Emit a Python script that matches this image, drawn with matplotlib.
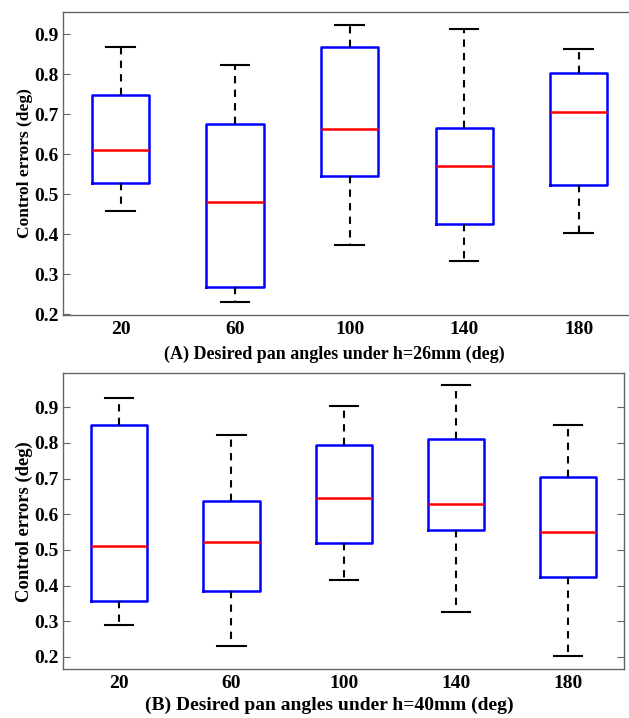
import numpy as np
import matplotlib.pyplot as plt

plt.rcParams['font.family'] = 'Liberation Serif'
plt.rcParams['font.weight'] = 'bold'

angles = ['20', '60', '100', '140', '180']

# h = 26 mm
low_a = [0.458, 0.230, 0.372, 0.333, 0.404]
q1_a = [0.527, 0.269, 0.546, 0.425, 0.523]
med_a = [0.609, 0.481, 0.663, 0.569, 0.706]
q3_a = [0.748, 0.675, 0.867, 0.665, 0.803]
high_a = [0.867, 0.823, 0.922, 0.913, 0.863]

# h = 40 mm
low_b = [0.289, 0.231, 0.415, 0.325, 0.203]
q1_b = [0.357, 0.385, 0.518, 0.557, 0.423]
med_b = [0.510, 0.521, 0.645, 0.628, 0.549]
q3_b = [0.849, 0.636, 0.795, 0.812, 0.703]
high_b = [0.926, 0.823, 0.903, 0.961, 0.849]


def make_stats(low, q1, med, q3, high):
    stats = []
    for i in range(len(med)):
        stats.append({'whislo': low[i], 'q1': q1[i], 'med': med[i],
                      'q3': q3[i], 'whishi': high[i], 'fliers': []})
    return stats


def draw_panel(ax, stats, xlabel, ylim, label_size, xlabel_y):
    ax.bxp(stats, positions=np.arange(1, len(stats) + 1), widths=0.5,
           capwidths=0.25, showfliers=False,
           boxprops=dict(color='#0000ff', linewidth=1.8),
           medianprops=dict(color='#ff0000', linewidth=1.8),
           whiskerprops=dict(color='black', linewidth=1.5, linestyle=(0, (3.5, 3))),
           capprops=dict(color='black', linewidth=1.5))
    ax.set_xlim(0.5, 5.5)
    ax.set_ylim(*ylim)
    ax.set_xticks(np.arange(1, 6))
    ax.set_xticklabels(angles)
    ax.set_yticks([0.2, 0.3, 0.4, 0.5, 0.6, 0.7, 0.8, 0.9])
    ax.tick_params(axis='y', direction='in', right=True, length=5,
                   color='#666666', labelsize=14)
    ax.tick_params(axis='x', length=0, labelsize=14, pad=4)
    for s in ax.spines.values():
        s.set_color('#666666')
        s.set_linewidth(1.0)
    ax.set_ylabel('Control errors (deg)', fontsize=label_size * 0.96,
                  fontweight='bold', labelpad=1)
    ax.set_xlabel(xlabel, fontsize=label_size, fontweight='bold')
    ax.xaxis.set_label_coords(0.474, xlabel_y)


fig = plt.figure(figsize=(6.29, 7.18), dpi=100)
ax1 = fig.add_axes([0.1006, 0.5613, 0.9105, 0.422])
ax2 = fig.add_axes([0.1006, 0.0678, 0.8914, 0.4123])

draw_panel(ax1, make_stats(low_a, q1_a, med_a, q3_a, high_a),
           '(A) Desired pan angles under h=26mm (deg)', (0.198, 0.955),
           13, -0.102)
draw_panel(ax2, make_stats(low_b, q1_b, med_b, q3_b, high_b),
           '(B) Desired pan angles under h=40mm (deg)', (0.165, 0.995),
           14, -0.094)

fig.savefig('out.png', dpi=100)
